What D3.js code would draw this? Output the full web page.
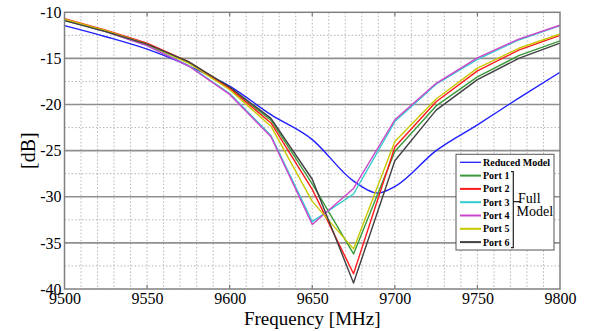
<!DOCTYPE html>
<html lang="en">
<head>
  <meta charset="UTF-8">
  <title>Port responses</title>
  <script src="https://d3js.org/d3.v7.min.js"></script>
  <style>
    body { margin: 0; background: #fff; }
    svg text { font-family: "Liberation Serif", "Times New Roman", serif; }
    .axis path { display: none; }
  </style>
</head>
<body>
  <svg width="602" height="331"></svg>

  <script>
    // values
    const freqs = [9500, 9525, 9550, 9575, 9600, 9625, 9650, 9675, 9700, 9725, 9750, 9775, 9800];
    const port1 = [-10.85, -12.05, -13.5, -15.4, -18.15, -21.7, -28.6, -36.2, -25.1, -20.15, -17.0, -14.7, -13.1];
    const port2 = [-10.7, -11.95, -13.35, -15.35, -18.25, -22.0, -29.2, -38.35, -24.6, -19.7, -16.35, -14.1, -12.5];
    const port3 = [-10.85, -12.1, -13.6, -15.75, -18.8, -23.35, -32.7, -29.7, -21.85, -17.8, -15.1, -13.0, -11.45];
    const port4 = [-10.8, -12.1, -13.6, -15.8, -18.9, -23.5, -33.0, -29.1, -21.65, -17.7, -14.95, -12.9, -11.4];
    const port5 = [-10.75, -12.0, -13.45, -15.5, -18.4, -22.35, -30.5, -35.65, -24.0, -19.4, -16.05, -13.9, -12.35];
    const port6 = [-10.9, -12.1, -13.45, -15.35, -18.1, -21.5, -28.1, -39.35, -26.1, -20.6, -17.3, -15.0, -13.35];

    const reducedFreqs = [9500, 9525, 9550, 9575, 9600, 9625, 9650, 9675, 9690, 9700, 9725, 9750, 9775, 9800];
    const reduced = [-11.45, -12.65, -14.0, -15.8, -18.0, -21.1, -23.8, -28.3, -29.6, -28.9, -25.0, -22.2, -19.3, -16.5];

    const xTicks = [9500, 9550, 9600, 9650, 9700, 9750, 9800];
    const yTicks = [-10, -15, -20, -25, -30, -35, -40];
    const legendNames = ["Reduced Model", "Port 1", "Port 2", "Port 3", "Port 4", "Port 5", "Port 6"];
    const colors = ["#1f1fff", "#3a9a3a", "#ff1a1a", "#33cccc", "#cc44cc", "#c8c800", "#404040"];

    const serif = "Liberation Serif, Times New Roman, serif";
    const svg = d3.select("svg");
    const margin = { top: 12.3, left: 64.5 };
    const width = 495.5, height = 276.7;

    const x = d3.scaleLinear().domain([9500, 9800]).range([0, width]);
    const y = d3.scaleLinear().domain([-40, -10]).range([height, 0]);

    const g = svg.append("g")
      .attr("transform", "translate(" + margin.left + "," + margin.top + ")");

    // minor grid (dotted)
    g.append("g").selectAll("line")
      .data(d3.range(9510, 9800, 10))
      .enter().append("line")
      .attr("x1", d => x(d)).attr("x2", d => x(d))
      .attr("y1", 0).attr("y2", height)
      .attr("stroke", "#b5b5b5").attr("stroke-width", 1)
      .attr("stroke-dasharray", "1.5,2");

    g.append("g").selectAll("line")
      .data(d3.range(-37.5, -10, 5))
      .enter().append("line")
      .attr("x1", 0).attr("x2", width)
      .attr("y1", d => y(d)).attr("y2", d => y(d))
      .attr("stroke", "#b5b5b5").attr("stroke-width", 1)
      .attr("stroke-dasharray", "1.5,2");

    // major horizontal grid
    g.append("g").selectAll("line")
      .data([-15, -20, -25, -30, -35])
      .enter().append("line")
      .attr("x1", 0).attr("x2", width)
      .attr("y1", d => y(d)).attr("y2", d => y(d))
      .attr("stroke", "#8f8f8f").attr("stroke-width", 1.6);

    // inward ticks on x
    g.append("g").selectAll("line")
      .data(xTicks.slice(1, -1))
      .enter().append("line")
      .attr("x1", d => x(d)).attr("x2", d => x(d))
      .attr("y1", 0).attr("y2", 4)
      .attr("stroke", "#777").attr("stroke-width", 1.2);
    g.append("g").selectAll("line")
      .data(xTicks.slice(1, -1))
      .enter().append("line")
      .attr("x1", d => x(d)).attr("x2", d => x(d))
      .attr("y1", height).attr("y2", height - 4)
      .attr("stroke", "#777").attr("stroke-width", 1.2);

    // curves
    const series = [reduced, port1, port2, port3, port4, port5, port6];
    const line = d3.line().x(d => x(d[0])).y(d => y(d[1]));

    series.forEach((vals, i) => {
      const fs = i === 0 ? reducedFreqs : freqs;
      const pts = fs.map((f, k) => [f, vals[k]]);
      line.curve(i === 0 ? d3.curveMonotoneX : d3.curveLinear);
      g.append("path")
        .attr("fill", "none")
        .attr("stroke", colors[i])
        .attr("stroke-width", 1.4)
        .attr("stroke-linejoin", "round")
        .attr("d", line(pts));
    });

    // frame
    g.append("rect")
      .attr("width", width).attr("height", height)
      .attr("fill", "none").attr("stroke", "#808080").attr("stroke-width", 1.5);

    // axes
    g.append("g")
      .attr("class", "axis")
      .call(d3.axisLeft(y).tickValues(yTicks).tickSize(0).tickPadding(3).tickFormat(d => String(d)))
      .attr("font-family", serif).attr("font-size", 16)
      .selectAll("text").attr("fill", "#000");

    g.append("g")
      .attr("class", "axis")
      .attr("transform", "translate(0," + height + ")")
      .call(d3.axisBottom(x).tickValues(xTicks).tickSize(0).tickPadding(4).tickFormat(d => String(d)))
      .attr("font-family", serif).attr("font-size", 16)
      .selectAll("text").attr("fill", "#000");

    svg.append("text")
      .attr("x", margin.left + width / 2).attr("y", 325)
      .attr("text-anchor", "middle")
      .style("font-size", "19px")
      .text("Frequency [MHz]");

    svg.append("text")
      .attr("transform", "translate(35," + (margin.top + height / 2) + ") rotate(-90)")
      .attr("text-anchor", "middle")
      .style("font-size", "20px")
      .text("[dB]");

    // legend
    const lg = svg.append("g").attr("transform", "translate(456,154.3)");
    lg.append("rect")
      .attr("width", 98).attr("height", 95.7)
      .attr("fill", "#fff").attr("stroke", "#555").attr("stroke-width", 1);

    const rows = lg.selectAll("g.row")
      .data(legendNames)
      .enter().append("g")
      .attr("transform", (d, i) => "translate(0," + (8 + i * 13.3) + ")");
    rows.append("line")
      .attr("x1", 4).attr("x2", 25)
      .attr("stroke", (d, i) => colors[i])
      .attr("stroke-width", (d, i) => i === 0 ? 1.3 : 2);
    rows.append("text")
      .attr("x", 27).attr("y", 3.5)
      .style("font-size", "10px").style("font-weight", "bold")
      .text(d => d);

    // bracket grouping the ports
    lg.append("path")
      .attr("d", "M55,17.4 H57.3 V93.4 H55 M57.3,47.4 H64")
      .attr("fill", "none").attr("stroke", "#222").attr("stroke-width", 1.2);
    lg.append("text")
      .attr("x", 62).attr("y", 48.5)
      .style("font-size", "14px")
      .text("Full");
    lg.append("text")
      .attr("x", 60.5).attr("y", 62)
      .style("font-size", "14px")
      .text("Model");
  </script>
</body>
</html>
